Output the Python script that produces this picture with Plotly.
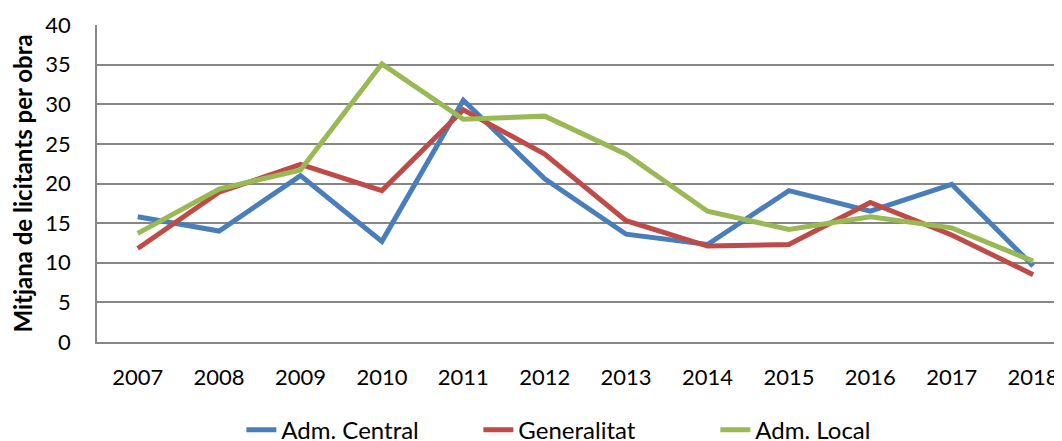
import plotly.graph_objects as go

years = ["2007", "2008", "2009", "2010", "2011", "2012", "2013", "2014", "2015", "2016", "2017", "2018"]
adm_central = [15.8, 14.0, 21.0, 12.7, 30.5, 20.6, 13.6, 12.3, 19.1, 16.5, 19.9, 9.6]
generalitat = [11.8, 18.9, 22.4, 19.1, 29.3, 23.7, 15.3, 12.1, 12.3, 17.6, 13.5, 8.5]
adm_local = [13.7, 19.3, 21.7, 35.1, 28.1, 28.5, 23.7, 16.5, 14.2, 15.8, 14.4, 10.2]

series = [
    ("Adm. Central", adm_central, "#4A7EBB"),
    ("Generalitat", generalitat, "#BE4B48"),
    ("Adm. Local", adm_local, "#98B954"),
]

font_family = "Lato, 'Open Sans', sans-serif"

fig = go.Figure()
for name, vals, color in series:
    fig.add_trace(go.Scatter(
        x=years, y=vals, name=name, mode="lines",
        line=dict(color=color, width=5, shape="linear"),
    ))

# the page body has an 8px default margin; the figure is sized to fill the rest of the window
fig.update_layout(
    width=1054, height=433,
    margin=dict(l=89, r=0, t=17, b=99, autoexpand=False),
    paper_bgcolor="white", plot_bgcolor="white",
    font=dict(family=font_family, size=22, color="#000000"),
    showlegend=True,
    legend=dict(
        orientation="h", x=0.518, xanchor="center", y=-0.278, yanchor="middle",
        font=dict(size=24, color="#000000"), entrywidth=192, entrywidthmode="pixels",
        tracegroupgap=0, bgcolor="rgba(0,0,0,0)",
    ),
    xaxis=dict(
        type="category", range=[-0.5, 11.355], automargin=False,
        showgrid=False, showline=True, linecolor="#868686", linewidth=1.5,
        ticks="", ticklabelstandoff=15, tickfont=dict(size=22),
        zeroline=False,
    ),
    yaxis=dict(
        range=[0, 40], dtick=5, tick0=0, automargin=False,
        showgrid=True, gridcolor="#868686", gridwidth=1.5,
        showline=True, linecolor="#868686", linewidth=1.5,
        ticks="", ticklabelstandoff=20, tickfont=dict(size=22),
        zeroline=False,
        title=dict(text="<b>Mitjana de licitants per obra</b>", font=dict(size=24), standoff=13),
    ),
)

fig.write_html("out.html")
